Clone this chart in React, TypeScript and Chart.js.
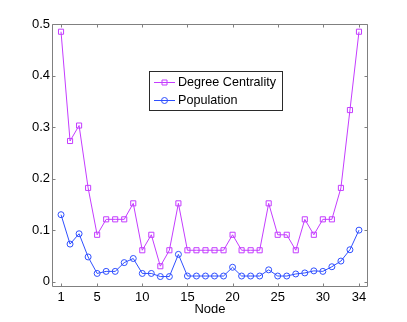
import React, { useEffect, useRef } from "react";
import { Chart, registerables } from "chart.js";

Chart.register(...registerables);

const nodes = [1, 2, 3, 4, 5, 6, 7, 8, 9, 10, 11, 12, 13, 14, 15, 16, 17, 18, 19, 20, 21, 22, 23, 24, 25, 26, 27, 28, 29, 30, 31, 32, 33, 34];
const degreeCentrality = [0.485, 0.273, 0.303, 0.182, 0.091, 0.121, 0.121, 0.121, 0.152, 0.061, 0.091, 0.030, 0.061, 0.152, 0.061, 0.061, 0.061, 0.061, 0.061, 0.091, 0.061, 0.061, 0.061, 0.152, 0.091, 0.091, 0.061, 0.121, 0.091, 0.121, 0.121, 0.182, 0.333, 0.485];
const population = [0.130, 0.073, 0.093, 0.048, 0.016, 0.020, 0.020, 0.037, 0.045, 0.016, 0.016, 0.010, 0.010, 0.053, 0.011, 0.011, 0.011, 0.011, 0.011, 0.028, 0.011, 0.011, 0.011, 0.023, 0.011, 0.011, 0.015, 0.017, 0.021, 0.020, 0.029, 0.040, 0.062, 0.100];
const xTicks = [1, 5, 10, 15, 20, 25, 30, 34];
const yTicks = [0, 0.1, 0.2, 0.3, 0.4, 0.5];
const yTickLabels = ["0", "0.1", "0.2", "0.3", "0.4", "0.5"];
const seriesNames = ["Degree Centrality", "Population"];
const xLabel = "Node";

const MAGENTA = "#c43cff";
const BLUE = "#2f4fff";
const FRAME = "#808080";
const FONT = "'Liberation Sans', Arial, Helvetica, sans-serif";

const framePlugin = {
  id: "matlabFrame",
  beforeDatasetsDraw(chart: any) {
    const { ctx, chartArea } = chart;
    const l = Math.round(chartArea.left) + 0.5;
    const t = Math.round(chartArea.top) + 0.5;
    const r = Math.round(chartArea.right) - 0.5;
    const b = Math.round(chartArea.bottom) - 0.5;
    ctx.save();
    ctx.strokeStyle = FRAME;
    ctx.lineWidth = 1;
    ctx.beginPath();
    ctx.rect(l, t, r - l, b - t);
    const xs = chart.scales.x;
    const ys = chart.scales.y;
    const tl = 3;
    xTicks.forEach((v) => {
      const px = Math.round(xs.getPixelForValue(v)) + 0.5;
      ctx.moveTo(px, b);
      ctx.lineTo(px, b - tl);
      ctx.moveTo(px, t);
      ctx.lineTo(px, t + tl);
    });
    yTicks.forEach((v) => {
      const py = Math.round(ys.getPixelForValue(v)) + 0.5;
      ctx.moveTo(l, py);
      ctx.lineTo(l + tl, py);
      ctx.moveTo(r, py);
      ctx.lineTo(r - tl, py);
    });
    ctx.stroke();
    ctx.restore();
  },
  afterDatasetsDraw(chart: any) {
    const { ctx } = chart;
    ctx.save();
    const bx = 149.5, by = 71.5, bw = 133, bh = 39;
    ctx.fillStyle = "#ffffff";
    ctx.fillRect(bx, by, bw, bh);
    ctx.strokeStyle = "#2a2a2a";
    ctx.lineWidth = 1;
    ctx.strokeRect(bx, by, bw, bh);
    const rows = [
      { y: 82.5, color: MAGENTA, style: "rect", text: seriesNames[0] },
      { y: 100.5, color: BLUE, style: "circle", text: seriesNames[1] },
    ];
    rows.forEach((row) => {
      ctx.strokeStyle = row.color;
      ctx.lineWidth = 1;
      ctx.beginPath();
      ctx.moveTo(154, row.y);
      ctx.lineTo(175, row.y);
      ctx.stroke();
      ctx.beginPath();
      if (row.style === "rect") {
        ctx.rect(162, row.y - 2.5, 5, 5);
      } else {
        ctx.arc(164.5, row.y, 3, 0, Math.PI * 2);
      }
      ctx.stroke();
      ctx.fillStyle = "#000000";
      ctx.font = `12.6px ${FONT}`;
      ctx.textAlign = "left";
      ctx.textBaseline = "middle";
      ctx.fillText(row.text, 178, row.y + 0.5);
    });
    ctx.restore();
  },
};

export default function App() {
  const canvasRef = useRef<HTMLCanvasElement | null>(null);

  useEffect(() => {
    const canvas = canvasRef.current;
    if (!canvas) return;
    const chart = new Chart(canvas, {
      type: "line",
      data: {
        datasets: [
          {
            label: seriesNames[0],
            data: nodes.map((n, i) => ({ x: n, y: degreeCentrality[i] })),
            borderColor: MAGENTA,
            borderWidth: 1,
            pointStyle: "rect",
            pointRadius: 3.6,
            pointBorderWidth: 1,
            pointBorderColor: MAGENTA,
            pointBackgroundColor: "rgba(0,0,0,0)",
            tension: 0,
          },
          {
            label: seriesNames[1],
            data: nodes.map((n, i) => ({ x: n, y: population[i] })),
            borderColor: BLUE,
            borderWidth: 1,
            pointStyle: "circle",
            pointRadius: 3,
            pointBorderWidth: 1,
            pointBorderColor: BLUE,
            pointBackgroundColor: "rgba(0,0,0,0)",
            tension: 0,
          },
        ],
      },
      options: {
        responsive: false,
        animation: false,
        devicePixelRatio: 1,
        layout: { padding: { left: 0, top: 24, right: 39, bottom: 0 } },
        plugins: {
          legend: { display: false },
          tooltip: { enabled: false },
        },
        scales: {
          x: {
            type: "linear",
            min: 0,
            max: 35,
            grid: { display: false, drawTicks: false },
            border: { display: false },
            afterBuildTicks: (s: any) => {
              s.ticks = xTicks.map((v) => ({ value: v }));
            },
            afterFit: (s: any) => {
              s.height = 35;
            },
            ticks: {
              autoSkip: false,
              maxRotation: 0,
              padding: 3,
              color: "#000000",
              font: { family: FONT, size: 13 },
              callback: (v: any) => String(v),
            },
            title: {
              display: true,
              text: xLabel,
              color: "#000000",
              font: { family: FONT, size: 13 },
              padding: { top: 0, bottom: 5 },
            },
          },
          y: {
            type: "linear",
            min: -0.0103,
            max: 0.5,
            grid: { display: false, drawTicks: false },
            border: { display: false },
            afterBuildTicks: (s: any) => {
              s.ticks = yTicks.map((v) => ({ value: v }));
            },
            afterFit: (s: any) => {
              s.width = 52;
            },
            ticks: {
              autoSkip: false,
              padding: 2,
              color: "#000000",
              font: { family: FONT, size: 13 },
              callback: (v: any) => {
                const idx = yTicks.indexOf(v);
                return idx >= 0 ? yTickLabels[idx] : "";
              },
            },
          },
        },
      },
      plugins: [framePlugin],
    });
    return () => chart.destroy();
  }, []);

  return (
    <div style={{ position: "absolute", left: 0, top: 0, width: 407, height: 322, background: "#ffffff" }}>
      <canvas ref={canvasRef} width={407} height={322} style={{ display: "block", width: 407, height: 322 }} />
    </div>
  );
}
